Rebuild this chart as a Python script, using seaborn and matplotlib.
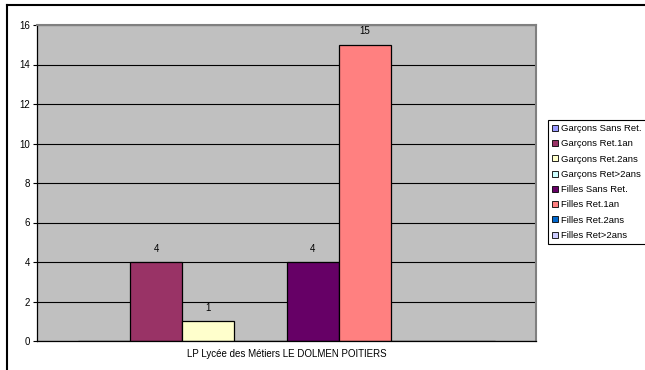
import pandas as pd
import matplotlib
matplotlib.use("Agg")
import matplotlib.pyplot as plt
import seaborn as sns
from matplotlib.lines import Line2D

# data
school = "LP Lycée des Métiers LE DOLMEN POITIERS"
series = ["Garçons Sans Ret.", "Garçons Ret.1an", "Garçons Ret.2ans", "Garçons Ret>2ans",
          "Filles Sans Ret.", "Filles Ret.1an", "Filles Ret.2ans", "Filles Ret>2ans"]
values = [0, 4, 1, 0, 4, 15, 0, 0]
colors = ["#9999FF", "#993366", "#FFFFCC", "#CCFFFF",
          "#660066", "#FF8080", "#0066CC", "#CCCCFF"]
yticks = [0, 2, 4, 6, 8, 10, 12, 14, 16]

df = pd.DataFrame({"school": [school] * len(series), "serie": series, "value": values})

plt.rcParams["font.family"] = ["Liberation Sans", "DejaVu Sans"]

W, H = 645, 370
fig = plt.figure(figsize=(W / 100, H / 100), dpi=100)
ax = fig.add_axes([37 / W, 1 - 341 / H, (536 - 37) / W, (341 - 25) / H])
ax.set_facecolor("#C0C0C0")

sns.barplot(data=df, x="school", y="value", hue="serie", hue_order=series,
            palette=colors, width=0.836, edgecolor="black", linewidth=0.9,
            saturation=1, legend=False, ax=ax)

# value labels (only non-zero, as in the reference)
for cont, v in zip(ax.containers, values):
    ax.bar_label(cont, labels=[str(v) if v else ""], padding=6, fontsize=7)

ax.set_xlim(-0.5, 0.5)
ax.set_ylim(0, 16)
ax.set_yticks(yticks)
ax.yaxis.grid(True, color="black", linewidth=0.8)
ax.set_axisbelow(True)
ax.set_xlabel("")
ax.set_ylabel("")
ax.tick_params(axis="y", length=3, width=0.8, labelsize=7, pad=2)
ax.tick_params(axis="x", length=0, labelsize=7, pad=6)

for s in ["left", "bottom"]:
    ax.spines[s].set_color("black")
    ax.spines[s].set_linewidth(0.9)
for s in ["top", "right"]:
    ax.spines[s].set_color("#808080")
    ax.spines[s].set_linewidth(1.5)

handles = [plt.Rectangle((0, 0), 1, 1, facecolor=c, edgecolor="black", linewidth=0.6)
           for c in colors]
leg = fig.legend(handles, series, loc="upper left",
                 bbox_to_anchor=(548 / W, 1 - 120 / H), fontsize=6.8,
                 handlelength=0.6, handleheight=0.6, handletextpad=0.35,
                 labelspacing=0.66, borderpad=0.45, borderaxespad=0,
                 fancybox=False, framealpha=1)
leg.get_frame().set_edgecolor("black")
leg.get_frame().set_linewidth(0.8)

# outer chart border (left and top visible in the reference)
fig.add_artist(Line2D([7 / W, 7 / W], [0, 1 - 5 / H], color="black", lw=1.5,
                      transform=fig.transFigure))
fig.add_artist(Line2D([7 / W, 1], [1 - 5 / H, 1 - 5 / H], color="black", lw=1.5,
                      transform=fig.transFigure))

fig.savefig("out.png", dpi=100)
